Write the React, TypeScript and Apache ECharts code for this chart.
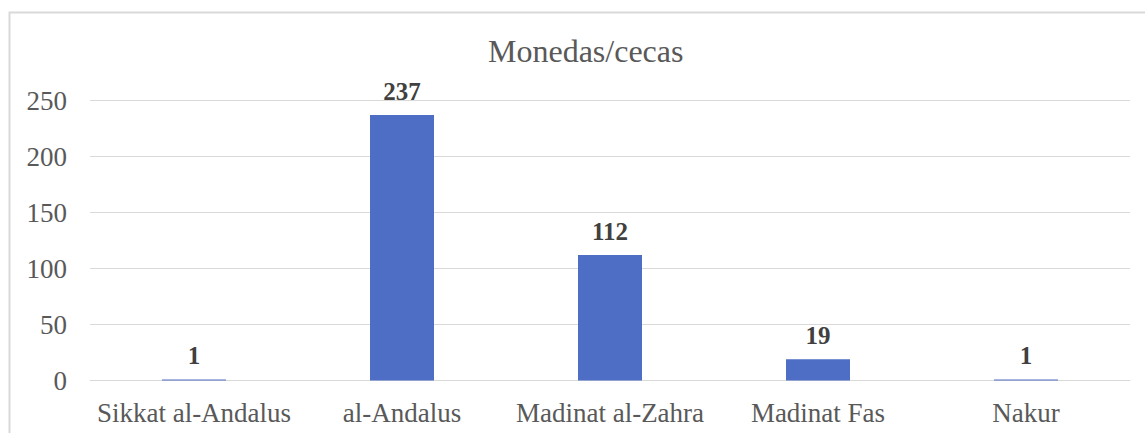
import React, { useEffect, useRef } from "react";
import * as echarts from "echarts";

const categories = ["Sikkat al-Andalus", "al-Andalus", "Madinat al-Zahra", "Madinat Fas", "Nakur"];
const values = [1, 237, 112, 19, 1];
const titleText = "Monedas/cecas";

const FONT = "'Liberation Serif', 'Times New Roman', serif";

export default function App() {
  const ref = useRef<HTMLDivElement>(null);
  useEffect(() => {
    if (!ref.current) return;
    const chart = echarts.init(ref.current, undefined, { renderer: "svg" });
    chart.setOption({
      animation: false,
      backgroundColor: "#ffffff",
      title: {
        text: titleText,
        left: 488,
        top: 35,
        padding: 0,
        textStyle: { fontFamily: FONT, fontSize: 32, fontWeight: "normal", color: "#595959" },
      },
      graphic: [
        {
          type: "rect",
          shape: { x: 9.5, y: 12.5, width: 1300, height: 600 },
          style: { fill: "none", stroke: "#d9d9d9", lineWidth: 2 },
          silent: true,
          z: -1,
        },
      ],
      grid: { left: 90, right: 15, top: 100.5, bottom: 52.5, containLabel: false },
      xAxis: {
        type: "category",
        data: categories,
        axisLine: { show: true, lineStyle: { color: "#d9d9d9", width: 1 } },
        axisTick: { show: false },
        axisLabel: { fontFamily: FONT, fontSize: 27, color: "#595959", margin: 19, interval: 0 },
      },
      yAxis: {
        type: "value",
        min: 0,
        max: 250,
        interval: 50,
        axisLine: { show: false },
        axisTick: { show: false },
        splitLine: { lineStyle: { color: "#d9d9d9", width: 1 } },
        axisLabel: { fontFamily: FONT, fontSize: 27, color: "#595959", margin: 23 },
      },
      series: [
        {
          type: "bar",
          data: values,
          barWidth: 64,
          itemStyle: { color: "#4e6dc4" },
          label: {
            show: true,
            position: "top",
            distance: 11,
            fontFamily: FONT,
            fontSize: 25,
            fontWeight: "bold",
            color: "#404040",
          },
        },
      ],
    });
    return () => chart.dispose();
  }, []);
  return (
    <div
      ref={ref}
      style={{ position: "absolute", left: 0, top: 0, width: 1145, height: 433 }}
    />
  );
}
